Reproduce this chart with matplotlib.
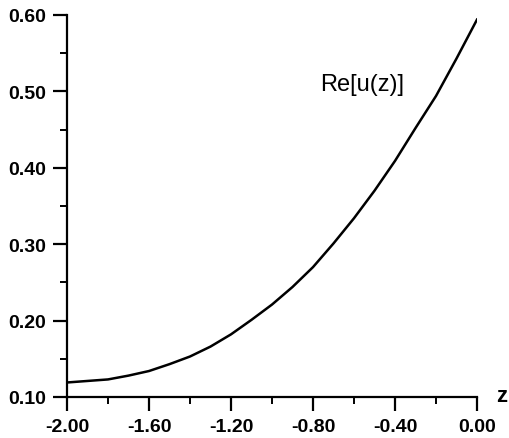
import matplotlib
matplotlib.use("Agg")
import matplotlib.pyplot as plt
from matplotlib.ticker import MultipleLocator, FormatStrFormatter

plt.rcParams['font.family'] = ['Liberation Sans', 'DejaVu Sans']

# valeurs
z = [-2.0, -1.9, -1.8, -1.7, -1.6, -1.5, -1.4, -1.3, -1.2, -1.1, -1.0,
     -0.9, -0.8, -0.7, -0.6, -0.5, -0.4, -0.3, -0.2, -0.1, 0.0]
re_u = [0.119, 0.121, 0.123, 0.128, 0.134, 0.143, 0.153, 0.166, 0.182, 0.201, 0.221,
        0.244, 0.270, 0.301, 0.334, 0.370, 0.409, 0.452, 0.494, 0.543, 0.594]

fig = plt.figure(figsize=(5.10, 4.39), dpi=100)
ax = fig.add_axes([67 / 510, 1 - 398 / 439, 410 / 510, 382 / 439])

ax.plot(z, re_u, color='black', linewidth=1.8)

ax.set_xlim(-2.0, 0.0)
ax.set_ylim(0.10, 0.60)

ax.xaxis.set_major_locator(MultipleLocator(0.4))
ax.xaxis.set_minor_locator(MultipleLocator(0.2))
ax.yaxis.set_major_locator(MultipleLocator(0.1))
ax.yaxis.set_minor_locator(MultipleLocator(0.05))
ax.xaxis.set_major_formatter(FormatStrFormatter('%.2f'))
ax.yaxis.set_major_formatter(FormatStrFormatter('%.2f'))

for s in ['top', 'right']:
    ax.spines[s].set_visible(False)
for s in ['left', 'bottom']:
    ax.spines[s].set_linewidth(1.6)

ax.tick_params(which='major', direction='out', length=10, width=1.6, pad=5,
               labelsize=14)
ax.tick_params(which='minor', direction='out', length=5, width=1.4)
for lab in ax.get_xticklabels() + ax.get_yticklabels():
    lab.set_fontweight('bold')

ax.text(-0.56, 0.51, 'Re[u(z)]', fontsize=17, ha='center', va='center')
ax.text(1.06, 0.005, 'z', transform=ax.transAxes, fontsize=16, fontweight='bold',
        ha='center', va='center')

fig.savefig('out.png', dpi=100)
